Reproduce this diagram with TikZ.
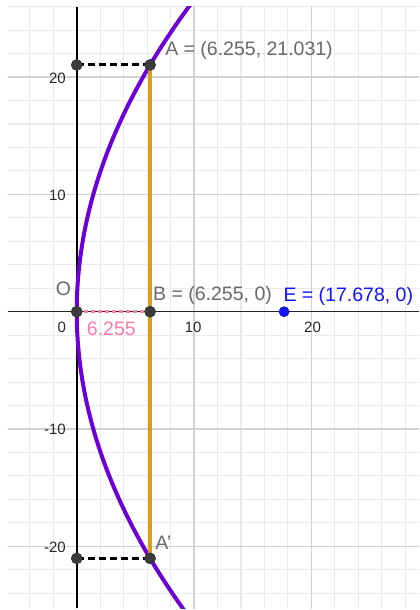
\documentclass[tikz,border=0pt]{standalone}
\usepackage{fontspec}
\setmainfont{Liberation Sans}
\definecolor{minorgrid}{RGB}{234,234,234}
\definecolor{majorgrid}{RGB}{210,210,210}
\definecolor{axiscol}{RGB}{40,40,40}
\definecolor{parab}{RGB}{108,0,214}
\definecolor{gold}{RGB}{214,160,28}
\definecolor{pinkc}{RGB}{255,120,170}
\definecolor{ptgray}{RGB}{60,60,60}
\definecolor{labgray}{RGB}{105,105,105}
\definecolor{bluec}{RGB}{20,20,255}
\tikzset{
  minorline/.style={draw=minorgrid, line width=1.1pt},
  majorline/.style={draw=majorgrid, line width=1.5pt},
  axisline/.style={draw=axiscol, line width=1.6pt},
  curveline/.style={draw=parab, line width=4pt},
  goldline/.style={draw=gold, line width=3.8pt},
  blackdash/.style={draw=black, line width=3pt, dash pattern=on 7pt off 4pt},
  pinkdot/.style={draw=pinkc, line width=3.4pt, dash pattern=on 4pt off 3pt},
  darkpt/.style={circle, fill=ptgray, draw=black!80, line width=0.6pt, minimum size=11pt, inner sep=0pt},
  bluept/.style={circle, fill=bluec, draw=bluec!70!black, line width=0.6pt, minimum size=10pt, inner sep=0pt},
  ptlabel/.style={font=\fontsize{19.5}{22}\selectfont, text=labgray, inner sep=0pt},
  ticklabel/.style={font=\fontsize{15}{17}\selectfont, text=black!85, inner sep=0pt}
}
\begin{document}
\begin{tikzpicture}[x=11.73pt,y=11.73pt]
\useasboundingbox (-6.54,-25.43) rectangle (29.18,26.57);
\fill[white] (-6.54,-25.43) rectangle (29.18,26.57);
\begin{scope}
  \clip (-5.86,-25.26) rectangle (29.18,25.98);
  \draw[minorline] (-6,-26) grid[step=2] (30,26);
  \draw[majorline] (-10,-30) grid[step=10] (30,30);
\end{scope}
% axes
\coordinate (xl) at (-5.86,0);
\coordinate (xr) at (29.18,0);
\coordinate (yt) at (0,25.98);
\coordinate (yb) at (0,-25.26);
\draw[axisline] (xl) -- (xr);
\draw[axisline, draw=black] (yb) -- (yt);
% tick labels
\node[ticklabel] (t0) at (-1.28,-1.3) {0};
\node[ticklabel] (t10) at (9.93,-1.3) {10};
\node[ticklabel] (t20) at (20.1,-1.3) {20};
\node[ticklabel, anchor=east] (ty20) at (-0.91,19.85) {20};
\node[ticklabel, anchor=east] (ty10) at (-0.91,9.95) {10};
\node[ticklabel, anchor=east] (tym10) at (-0.91,-10.0) {-10};
\node[ticklabel, anchor=east] (tym20) at (-0.91,-20.05) {-20};
% parabola y^2 = 70.71 x
\begin{scope}
  \clip (-5.86,-25.26) rectangle (29.18,25.98);
  \draw[curveline] plot[domain=-27:27, samples=120, smooth, variable=\t] ({\t*\t/70.71},{\t});
\end{scope}
% points
\coordinate (A) at (6.255,21.031);
\coordinate (Ap) at (6.255,-21.031);
\coordinate (B) at (6.255,0);
\coordinate (O) at (0,0);
\coordinate (Ay) at (0,21.031);
\coordinate (Apy) at (0,-21.031);
\coordinate (E) at (17.678,0);
\draw[goldline] (A) -- (Ap);
\draw[blackdash] (Ay) -- (A);
\draw[blackdash] (Apy) -- (Ap);
\draw[pinkdot] (O) -- (B);
\node[darkpt] (pA) at (A) {};
\node[darkpt] (pAp) at (Ap) {};
\node[darkpt] (pB) at (B) {};
\node[darkpt] (pO) at (O) {};
\node[darkpt] (pAy) at (Ay) {};
\node[darkpt] (pApy) at (Apy) {};
\node[bluept] (pE) at (E) {};
% labels
\node[ptlabel, anchor=west] (lA) at (7.53,22.31) {A = (6.255, 21.031)};
\node[ptlabel, anchor=west] (lB) at (6.5,1.42) {B = (6.255, 0)};
\node[ptlabel, anchor=west, text=bluec] (lE) at (17.61,1.28) {E = (17.678, 0)};
\node[ptlabel] (lO) at (-1.14,1.91) {O};
\node[ptlabel, anchor=west] (lAp) at (6.69,-19.69) {A\symbol{39}};
\node[ptlabel, text=pinkc] (l6) at (2.95,-1.42) {6.255};
\end{tikzpicture}
\end{document}
